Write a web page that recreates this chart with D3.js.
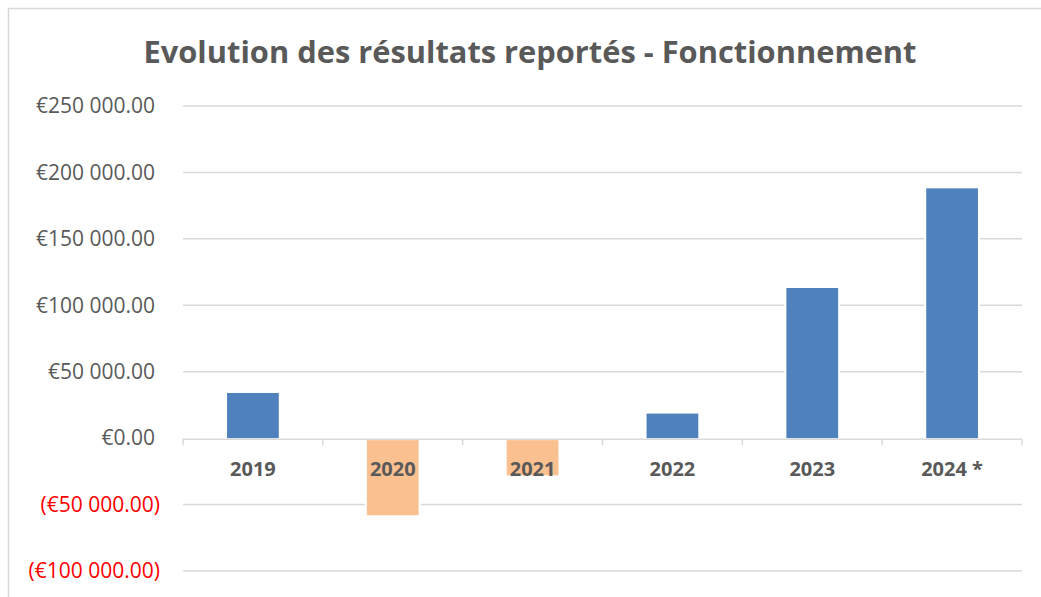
<!DOCTYPE html>
<html>
<head>
<meta charset="utf-8">
<script src="https://cdn.jsdelivr.net/npm/d3@7"></script>
<style>
  body { margin: 0; background: #fff; }
  text { font-family: "Open Sans", "Noto Sans", sans-serif; }
</style>
</head>
<body>
<svg id="chart" width="1041" height="597"></svg>
<script>
var years = ["2019", "2020", "2021", "2022", "2023", "2024 *"];
var results = [34000, -58000, -28000, 18500, 113000, 188000];
var yTicks = [-100000, -50000, 0, 50000, 100000, 150000, 200000, 250000];
var chartTitle = "Evolution des résultats reportés - Fonctionnement";

var svg = d3.select("#chart");
var margin = {left: 183, right: 19, top: 106, bottom: 26};
var W = 1041, H = 597;

// chart frame (cut by the screenshot on right/bottom)
svg.append("path")
  .attr("d", "M8.5,597 L8.5,8.5 L1041,8.5")
  .attr("fill", "none")
  .attr("stroke", "#d9d9d9")
  .attr("stroke-width", 1.5);

var x = d3.scaleBand()
  .domain(years)
  .range([margin.left, W - margin.right])
  .paddingInner(0.63)
  .paddingOuter(0.315);

var xOuter = d3.scaleBand().domain(years).range([margin.left, W - margin.right]);

var y = d3.scaleLinear()
  .domain([-100000, 250000])
  .range([571, 106]);

function euro(v) {
  var s = d3.format(",.2f")(Math.abs(v)).replace(/,/g, " ");
  return v < 0 ? "(€" + s + ")" : "€" + s;
}

// gridlines
svg.append("g").selectAll("line")
  .data(yTicks.filter(function(d){ return d !== 0; }))
  .enter().append("line")
  .attr("x1", margin.left).attr("x2", W - margin.right)
  .attr("y1", function(d){ return y(d); })
  .attr("y2", function(d){ return y(d); })
  .attr("stroke", "#d9d9d9")
  .attr("stroke-width", 1.5);

// y labels
svg.append("g").selectAll("text")
  .data(yTicks)
  .enter().append("text")
  .attr("x", function(d){ return d < 0 ? 160 : 155; })
  .attr("y", function(d){ return y(d); })
  .attr("dy", "0.35em")
  .attr("text-anchor", "end")
  .attr("font-size", 21)
  .attr("fill", function(d){ return d < 0 ? "#ff0000" : "#595959"; })
  .text(euro);

// bars, with white outline hiding gridlines
svg.append("g").selectAll("rect")
  .data(results)
  .enter().append("rect")
  .attr("x", function(d, i){ return x(years[i]); })
  .attr("width", x.bandwidth())
  .attr("y", function(d){ return d >= 0 ? y(d) : y(0) + 2; })
  .attr("height", function(d){ return d >= 0 ? y(0) - y(d) : y(d) - y(0) - 2; })
  .attr("fill", function(d){ return d >= 0 ? "#4f81bd" : "#fac090"; })
  .attr("stroke", "#fff")
  .attr("stroke-width", 4)
  .attr("paint-order", "stroke");

// zero axis + ticks
var axis = svg.append("g");
axis.append("line")
  .attr("x1", margin.left).attr("x2", W - margin.right)
  .attr("y1", y(0) + 1).attr("y2", y(0) + 1)
  .attr("stroke", "#d9d9d9").attr("stroke-width", 1.5);
axis.selectAll("line.tick")
  .data(years.concat(["end"]))
  .enter().append("line")
  .attr("class", "tick")
  .attr("x1", function(d, i){ return margin.left + i * xOuter.bandwidth(); })
  .attr("x2", function(d, i){ return margin.left + i * xOuter.bandwidth(); })
  .attr("y1", y(0) + 1).attr("y2", y(0) + 7)
  .attr("stroke", "#d9d9d9").attr("stroke-width", 1.5);

// category labels
svg.append("g").selectAll("text")
  .data(years)
  .enter().append("text")
  .attr("x", function(d){ return xOuter(d) + xOuter.bandwidth() / 2; })
  .attr("y", y(0) + 38)
  .attr("text-anchor", "middle")
  .attr("font-size", 20)
  .attr("font-weight", "bold")
  .attr("fill", "#595959")
  .text(function(d){ return d; });

// title
svg.append("text")
  .attr("x", 530)
  .attr("y", 63)
  .attr("text-anchor", "middle")
  .attr("font-size", 31)
  .attr("font-weight", "bold")
  .attr("fill", "#595959")
  .attr("textLength", 773)
  .attr("lengthAdjust", "spacingAndGlyphs")
  .text(chartTitle);
</script>
</body>
</html>
